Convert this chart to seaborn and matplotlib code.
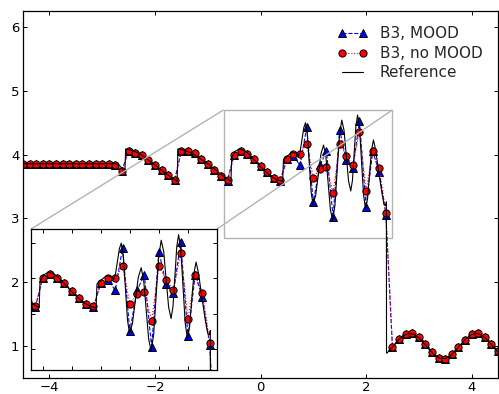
import numpy as np
import matplotlib
matplotlib.use("Agg")
import matplotlib.pyplot as plt
import seaborn as sns
from mpl_toolkits.axes_grid1.inset_locator import mark_inset

# ---- data -------------------------------------------------------------
x_cells = np.linspace(-4.5, 4.5, 73)

rho_mood = [3.857] * 14 + [
    3.84, 3.75, 4.06, 4.03, 3.99, 3.91, 3.84, 3.76, 3.68, 3.61,
    4.05, 4.06, 4.02, 3.93, 3.86, 3.76, 3.67, 3.59,
    4.00, 4.06, 4.01, 3.93, 3.82, 3.72, 3.63, 3.59,
    3.93, 3.98, 3.83, 4.43, 3.25, 3.83, 4.05, 3.03, 4.38, 3.92,
    3.79, 4.52, 3.18, 4.05, 3.73, 3.06,
    0.98, 1.11, 1.19, 1.21, 1.14, 1.03, 0.91, 0.82, 0.80, 0.87,
    0.98, 1.10, 1.19, 1.21, 1.14, 1.04, 0.92]

rho_nomood = [3.857] * 14 + [
    3.84, 3.75, 4.06, 4.03, 3.99, 3.91, 3.84, 3.76, 3.68, 3.61,
    4.05, 4.06, 4.02, 3.93, 3.86, 3.76, 3.67, 3.61,
    4.00, 4.06, 4.01, 3.93, 3.82, 3.72, 3.63, 3.61,
    3.93, 4.01, 4.01, 4.17, 3.64, 3.78, 3.81, 3.40, 4.17, 3.98,
    3.84, 4.36, 3.43, 4.05, 3.79, 3.09,
    0.98, 1.11, 1.19, 1.21, 1.14, 1.03, 0.91, 0.82, 0.80, 0.87,
    0.98, 1.10, 1.19, 1.21, 1.14, 1.04, 0.92]

ref_x = [-4.5, -2.74, -2.66, -2.57, -2.555, -2.45, -2.3, -2.15, -2.0, -1.85,
         -1.7, -1.58, -1.565, -1.45, -1.3, -1.15, -1.0, -0.85, -0.7, -0.56,
         -0.545, -0.48, -0.4, -0.3, -0.2, -0.1, 0.0, 0.1, 0.2, 0.3,
         0.42, 0.435, 0.5, 0.6, 0.68, 0.72, 0.753, 0.787, 0.82, 0.853,
         0.888, 0.924, 0.96, 0.995, 1.045, 1.095, 1.145, 1.195, 1.238, 1.281,
         1.324, 1.367, 1.41, 1.453, 1.497, 1.54, 1.583, 1.625, 1.668, 1.71,
         1.743, 1.775, 1.808, 1.84, 1.878, 1.915, 1.953, 1.99, 2.028, 2.065,
         2.103, 2.14, 2.18, 2.22, 2.26, 2.30, 2.34, 2.37, 2.385, 2.388,
         2.4, 2.5, 2.6, 2.7, 2.8, 2.9, 3.0, 3.1, 3.2, 3.3,
         3.4, 3.5, 3.6, 3.7, 3.8, 3.9, 4.0, 4.1, 4.2, 4.3,
         4.4, 4.5]
ref_rho = [3.857, 3.857, 3.82, 3.72, 4.09, 4.07, 4.02, 3.93, 3.84, 3.74,
           3.65, 3.58, 4.09, 4.07, 4.02, 3.94, 3.86, 3.76, 3.66, 3.58,
           3.96, 4.05, 4.09, 4.06, 3.99, 3.90, 3.81, 3.73, 3.66, 3.61,
           3.58, 3.92, 3.97, 4.04, 4.02, 3.98, 4.06, 4.24, 4.42, 4.50,
           4.31, 3.86, 3.41, 3.22, 3.36, 3.685, 4.01, 4.15, 3.98, 3.56,
           3.14, 2.97, 3.20, 3.755, 4.31, 4.54, 4.38, 3.985, 3.59, 3.43,
           3.60, 4.025, 4.45, 4.62, 4.405, 3.885, 3.365, 3.15, 3.31, 3.69,
           4.07, 4.23, 4.08, 3.85, 3.62, 3.40, 3.22, 3.20, 3.26, 0.89,
           0.893, 0.987, 1.084, 1.161, 1.198, 1.187, 1.130, 1.041, 0.942, 0.858,
           0.808, 0.805, 0.850, 0.932, 1.030, 1.121, 1.183, 1.199, 1.167, 1.094,
           0.998, 0.903]

labels = ["B3, MOOD", "B3, no MOOD", "Reference"]
main_xticks = [-4, -2, 0, 2, 4]
main_yticks = [1, 2, 3, 4, 5, 6]
ins_xticks = [-0.5, 0.0, 0.5, 1.0, 1.5, 2.0]
ins_yticks = [3.0, 3.5, 4.0, 4.5]

# ---- style ------------------------------------------------------------
sns.set_theme(style="ticks", rc={
    "xtick.direction": "in", "ytick.direction": "in",
    "xtick.top": True, "ytick.right": True,
    "xtick.major.size": 3.0, "ytick.major.size": 3.0,
    "xtick.major.width": 0.7, "ytick.major.width": 0.7,
    "axes.edgecolor": "black", "axes.linewidth": 0.9,
    "xtick.color": "black", "ytick.color": "black",
})
plt.rcParams["font.family"] = ["DejaVu Sans"]

W, H = 499, 394
fig = plt.figure(figsize=(W / 100, H / 100), dpi=100)
ax = fig.add_axes([23 / W, (H - 378) / H, (498 - 23) / W, (378 - 11) / H])
axins = fig.add_axes([31 / W, (H - 370) / H, (217 - 31) / W, (370 - 229) / H])


def draw(a, with_labels):
    sns.lineplot(x=x_cells, y=rho_mood, ax=a, color="blue", linestyle="--",
                 lw=0.8, marker="^", markersize=6.2, markeredgecolor="black",
                 markeredgewidth=0.7, estimator=None, sort=False, legend=False,
                 label=labels[0] if with_labels else None)
    sns.lineplot(x=x_cells, y=rho_nomood, ax=a, color="red", linestyle=":",
                 lw=0.8, marker="o", markersize=5.2, markeredgecolor="black",
                 markeredgewidth=0.7, estimator=None, sort=False, legend=False,
                 label=labels[1] if with_labels else None)
    sns.lineplot(x=ref_x, y=ref_rho, ax=a, color="black", lw=0.8,
                 estimator=None, sort=False, legend=False,
                 label=labels[2] if with_labels else None)


draw(ax, True)
draw(axins, False)

ax.set_xlim(-4.5, 4.5)
ax.set_ylim(0.5, 6.25)
ax.set_xticks(main_xticks)
ax.set_yticks(main_yticks)
ax.tick_params(labelsize=9.5, pad=2.5)
ax.set_xlabel("")
ax.set_ylabel("")

axins.set_xlim(-0.7, 2.5)
axins.set_ylim(2.7, 4.7)
axins.set_xticks(ins_xticks)
axins.set_yticks(ins_yticks)
axins.tick_params(labelbottom=False, labelleft=False)
axins.set_xlabel("")
axins.set_ylabel("")

mark_inset(ax, axins, loc1=2, loc2=1, fc="none", ec="0.7", lw=1.0)

ax.legend(loc="upper right", frameon=False, numpoints=2, fontsize=11,
          handlelength=2.0, handletextpad=0.8, labelspacing=0.3,
          borderaxespad=0.6)

fig.savefig("out.png", dpi=100)
